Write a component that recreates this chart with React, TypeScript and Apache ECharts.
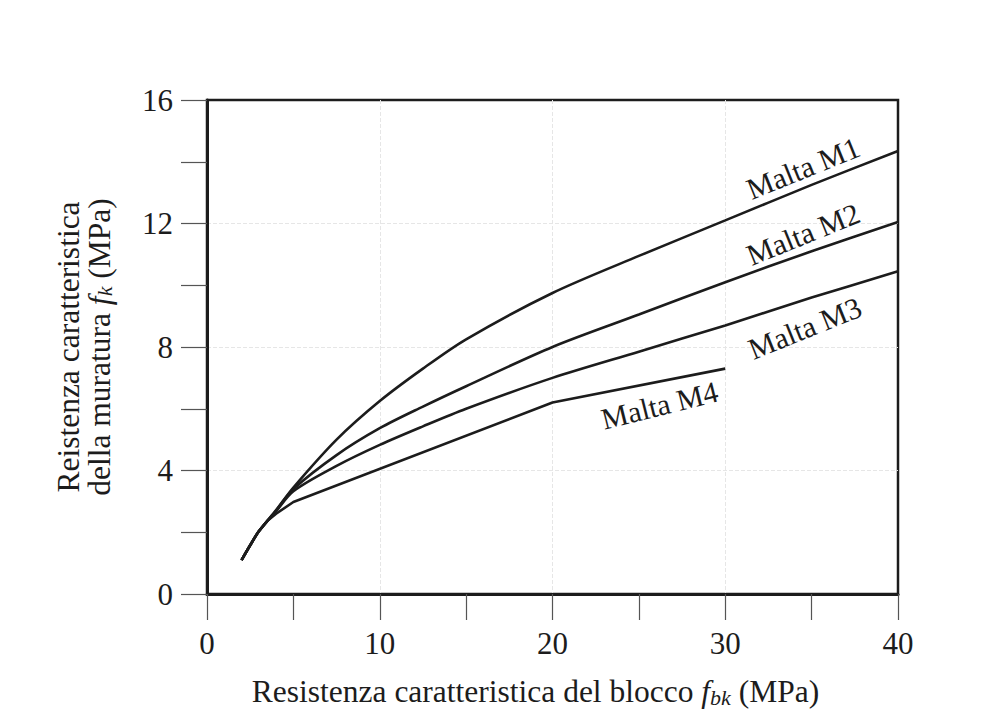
import React, { useEffect, useRef } from "react";
import * as echarts from "echarts";

// Block strength f_bk (MPa) sample points
const xSmooth = [2, 2.5, 3, 4, 5, 7.5, 10, 12.5, 15, 20, 25, 30, 35, 40];
const m1 = [1.1, 1.58, 2.03, 2.72, 3.45, 5.0, 6.25, 7.3, 8.25, 9.75, 10.95, 12.1, 13.25, 14.35];
const m2 = [1.1, 1.58, 2.03, 2.7, 3.4, 4.5, 5.37, 6.07, 6.73, 8.0, 9.05, 10.1, 11.1, 12.05];
const m3 = [1.1, 1.58, 2.03, 2.68, 3.33, 4.15, 4.83, 5.43, 6.0, 7.0, 7.85, 8.7, 9.6, 10.45];
const xM4 = [2, 2.5, 3, 3.5, 4, 5, 20, 30];
const m4 = [1.1, 1.58, 2.03, 2.37, 2.6, 2.98, 6.2, 7.3];

const seriesNames = ["Malta M1", "Malta M2", "Malta M3", "Malta M4"];
// label anchor positions (data units) and angles
const labelCoords = [
  [34.5, 13.8],
  [34.5, 11.66],
  [34.6, 8.62],
  [26.2, 6.12],
];
const labelAngles = [22, 22, 22, 14];

const xTicks = [0, 10, 20, 30, 40];
const yTicks = [0, 4, 8, 12, 16];

const FONT = "'Liberation Serif', 'Times New Roman', serif";
const INK = "#1c1c1c";

export default function App() {
  const ref = useRef<HTMLDivElement>(null);
  useEffect(() => {
    if (!ref.current) return;
    const chart = echarts.init(ref.current, undefined, { renderer: "svg" });
    const pairs = (xs: number[], ys: number[]) => xs.map((x, i) => [x, ys[i]]);
    const datasets = [pairs(xSmooth, m1), pairs(xSmooth, m2), pairs(xSmooth, m3), pairs(xM4, m4)];
    const series = datasets.map((d, i) => ({
      type: "line",
      name: seriesNames[i],
      data: d,
      smooth: i < 3 ? 0.3 : false,
      symbol: "none",
      z: 3,
      lineStyle: { color: INK, width: 2.6 },
      markPoint: {
        symbol: "circle",
        symbolSize: 1,
        itemStyle: { color: "rgba(0,0,0,0)" },
        label: {
          show: true,
          position: "inside",
          formatter: seriesNames[i],
          rotate: labelAngles[i],
          fontFamily: FONT,
          fontSize: 30,
          color: INK,
        },
        data: [{ coord: labelCoords[i] }],
      },
    }));
    const tickStyle = { color: "#555", width: 1.2 };
    const gridLine = { show: true, showMinLine: false, showMaxLine: false, lineStyle: { color: "#e6e6e6", width: 1, type: "dashed" } };
    chart.setOption({
      animation: false,
      backgroundColor: "#ffffff",
      grid: {
        left: 207,
        right: 94,
        top: 100,
        bottom: 126,
        show: true,
        borderColor: INK,
        borderWidth: 2.5,
      },
      xAxis: {
        type: "value",
        min: xTicks[0],
        max: xTicks[xTicks.length - 1],
        interval: 10,
        axisLine: { show: true, lineStyle: { color: INK, width: 3 } },
        axisTick: { show: true, length: 26, lineStyle: tickStyle },
        minorTick: { show: true, splitNumber: 2, length: 26, lineStyle: tickStyle },
        splitLine: gridLine,
        axisLabel: { margin: 34, fontFamily: FONT, fontSize: 31, color: INK },
        name: "Resistenza caratteristica del blocco {i|f}{sub|bk} (MPa)",
        nameLocation: "middle",
        nameGap: 80,
        nameTextStyle: {
          fontFamily: FONT,
          fontSize: 31.5,
          color: INK,
          lineHeight: 34,
          padding: [0, 34, 0, 0],
          rich: {
            i: { fontFamily: FONT, fontSize: 31.5, fontStyle: "italic", color: INK, lineHeight: 34 },
            sub: { fontFamily: FONT, fontSize: 22, fontStyle: "italic", color: INK, lineHeight: 18, verticalAlign: "bottom" },
          },
        },
      },
      yAxis: {
        type: "value",
        min: yTicks[0],
        max: yTicks[yTicks.length - 1],
        interval: 4,
        axisLine: { show: true, lineStyle: { color: INK, width: 3 } },
        axisTick: { show: true, length: 26, lineStyle: tickStyle },
        minorTick: { show: true, splitNumber: 2, length: 26, lineStyle: tickStyle },
        splitLine: gridLine,
        axisLabel: { margin: 34, fontFamily: FONT, fontSize: 31, color: INK },
        name: "Reistenza caratteristica\ndella muratura {i|f}{sub|k} (MPa)",
        nameLocation: "middle",
        nameGap: 92,
        nameTextStyle: {
          fontFamily: FONT,
          fontSize: 31.5,
          color: INK,
          lineHeight: 31,
          rich: {
            i: { fontFamily: FONT, fontSize: 31.5, fontStyle: "italic", color: INK, lineHeight: 31 },
            sub: { fontFamily: FONT, fontSize: 22, fontStyle: "italic", color: INK, lineHeight: 18, verticalAlign: "bottom" },
          },
        },
      },
      series,
    });
    return () => chart.dispose();
  }, []);
  return <div ref={ref} style={{ width: 992, height: 720, position: "absolute", left: 0, top: 0 }} />;
}
